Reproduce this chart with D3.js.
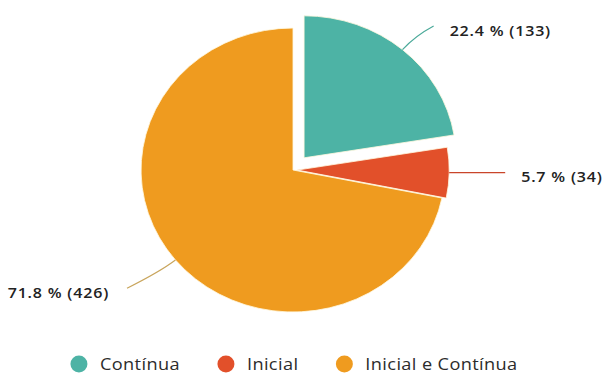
<!DOCTYPE html>
<html>
<head>
<meta charset="utf-8">
<script src="https://cdn.jsdelivr.net/npm/d3@7"></script>
<style>
  html, body { margin: 0; padding: 0; background: #fff; }
  svg { display: block; }
</style>
</head>
<body>
<svg id="chart" width="606" height="374"></svg>
<script>
// Modalidade de formação
const categories = ["Contínua", "Inicial", "Inicial e Contínua"];
const counts = [133, 34, 426];
const percents = [22.4, 5.7, 71.8];
const colors = ["#4db3a5", "#e2502a", "#ef9b1f"];
const leaderColors = ["#4aa999", "#c9452a", "#c9a55c"];
const explode = [16, 4, 0];

const cx = 293, cy = 170, R = 142, SX = 1.07;

const svg = d3.select("#chart");

const data = categories.map((c, i) => ({ name: c, count: counts[i], pct: percents[i], i }));
const pie = d3.pie().sort(null).value(d => d.count);
const arcs = pie(data);
const arc = d3.arc().innerRadius(0).outerRadius(R);

// polar -> page coordinates (d3 angles: clockwise from 12 o'clock)
const polar = (a, r) => [cx + SX * r * Math.sin(a), cy - r * Math.cos(a)];

const gPie = svg.append("g").attr("transform", `translate(${cx},${cy}) scale(${SX},1)`);
gPie.selectAll("path.slice")
  .data(arcs)
  .join("path")
  .attr("class", "slice")
  .attr("transform", d => {
    const m = (d.startAngle + d.endAngle) / 2, o = explode[d.data.i];
    return `translate(${o * Math.sin(m)},${-o * Math.cos(m)})`;
  })
  .attr("d", arc)
  .attr("fill", d => colors[d.data.i])
  .attr("stroke", "#fff8e0")
  .attr("stroke-width", 0.8);

// leader lines and value labels
const gLab = svg.append("g");
arcs.forEach(d => {
  const i = d.data.i;
  const m = (d.startAngle + d.endAngle) / 2;
  const r0 = R + explode[i];
  const flat = Math.abs(Math.sin(m)) > 0.99;
  const S = polar(m, r0);
  let C, E;
  if (flat) {
    const dir = Math.sign(Math.sin(m));
    E = [S[0] + dir * 56, S[1]];
    C = [(S[0] + E[0]) / 2, S[1]];
  } else {
    C = polar(m, r0 + 18);
    E = polar(m + 0.035, 195);
  }
  gLab.append("path")
    .attr("d", `M${S[0]},${S[1]} Q${C[0]},${C[1]} ${E[0]},${E[1]}`)
    .attr("fill", "none")
    .attr("stroke", leaderColors[i])
    .attr("stroke-width", 1.2);
  const right = Math.sin(m) > 0;
  const tx = right ? E[0] + 16 : E[0] - 18;
  const ty = E[1] + 4.5;
  gLab.append("text")
    .attr("transform", `translate(${tx},${ty}) scale(${SX},1)`)
    .attr("text-anchor", right ? "start" : "end")
    .attr("dy", "0.35em")
    .attr("font-family", "'Open Sans', sans-serif")
    .attr("font-weight", 600)
    .attr("font-size", 15)
    .attr("letter-spacing", 0.75)
    .attr("fill", "#222")
    .text(`${d.data.pct} % (${d.data.count})`);
});

// legend
const gLeg = svg.append("g");
const items = gLeg.selectAll("g.item").data(data).join("g").attr("class", "item");
items.append("circle")
  .attr("r", 8.5)
  .attr("fill", d => colors[d.i]);
items.append("text")
  .attr("transform", `translate(21,0) scale(${SX},1)`)
  .attr("dy", "0.35em")
  .attr("font-family", "'Open Sans', sans-serif")
  .attr("font-weight", 500)
  .attr("font-size", 17)
  .attr("letter-spacing", 0.35)
  .attr("fill", "#2b2b2b")
  .text(d => d.name);

let x = 0;
const pos = [];
items.each(function (d) {
  pos.push(x);
  const w = this.querySelector("text").getComputedTextLength() * SX;
  x += 21 + w + 46;
});
const total = x - 46 + 8.5;
const x0 = 294 - total / 2 + 8.5;
items.attr("transform", (d, k) => `translate(${x0 + pos[k]},364)`);
</script>
</body>
</html>
